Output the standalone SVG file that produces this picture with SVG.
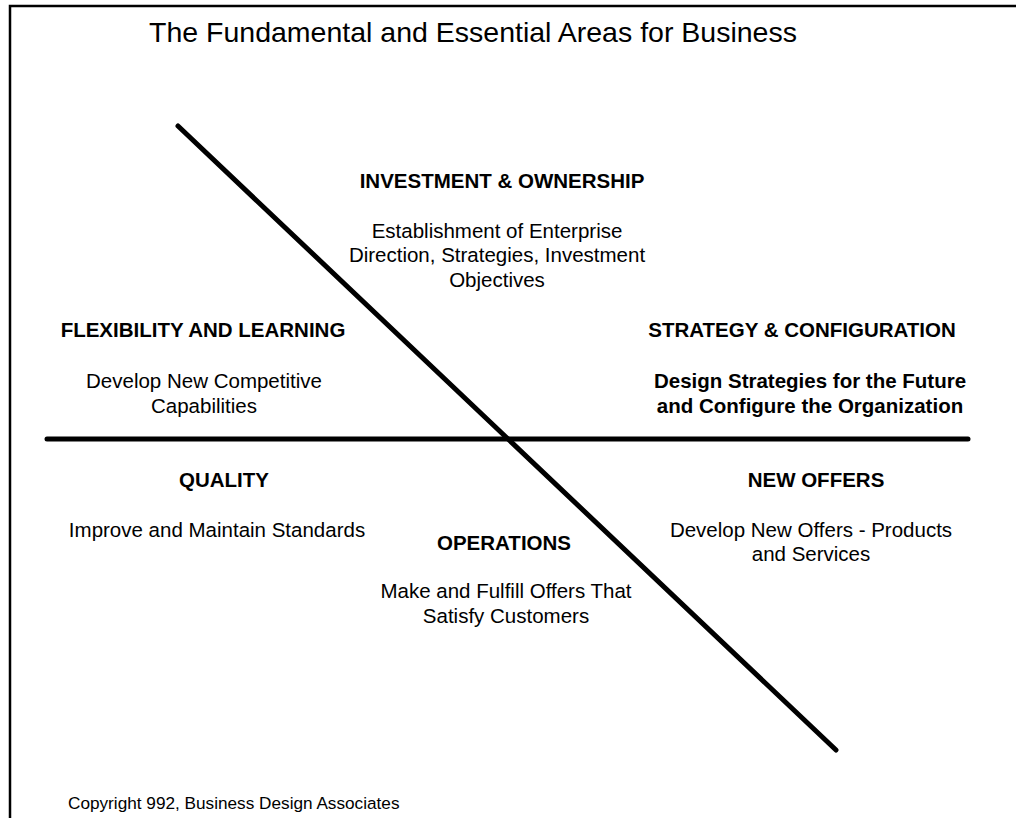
<svg xmlns="http://www.w3.org/2000/svg" width="1016" height="818" viewBox="0 0 1016 818">
  <style>
    text { font-family: "Liberation Sans", Arial, sans-serif; fill: #000; }
    .title { font-size: 28.5px; }
    .head { font-size: 20.5px; font-weight: bold; text-anchor: middle; }
    .body { font-size: 20.5px; text-anchor: middle; }
    .bodyb { font-size: 20.5px; font-weight: bold; text-anchor: middle; }
    .note { font-size: 17.2px; }
    .axis { stroke: #000; stroke-width: 5; stroke-linecap: round; fill: none; }
  </style>
  <rect width="1016" height="818" fill="#fff"/>
  <!-- page frame, open to the right and bottom -->
  <rect x="10" y="6" width="1030" height="840" fill="none" stroke="#000" stroke-width="2.5"/>

  <text class="title" x="473" y="42" text-anchor="middle">The Fundamental and Essential Areas for Business</text>

  <g id="connectors">
    <line class="axis" x1="178" y1="126" x2="836" y2="750"/>
    <line class="axis" x1="47" y1="439" x2="968" y2="439"/>
  </g>

  <g id="investment-ownership">
    <text class="head" x="502" y="188">INVESTMENT &amp; OWNERSHIP</text>
    <text class="body" x="497" y="238">Establishment of Enterprise</text>
    <text class="body" x="497" y="262">Direction, Strategies, Investment</text>
    <text class="body" x="497" y="287">Objectives</text>
  </g>

  <g id="flexibility-learning">
    <text class="head" x="203" y="337">FLEXIBILITY AND LEARNING</text>
    <text class="body" x="204" y="388">Develop New Competitive</text>
    <text class="body" x="204" y="413">Capabilities</text>
  </g>

  <g id="strategy-configuration">
    <text class="head" x="802" y="337">STRATEGY &amp; CONFIGURATION</text>
    <text class="bodyb" x="810" y="388">Design Strategies for the Future</text>
    <text class="bodyb" x="810" y="413">and Configure the Organization</text>
  </g>

  <g id="quality">
    <text class="head" x="224" y="487">QUALITY</text>
    <text class="body" x="217" y="537">Improve and Maintain Standards</text>
  </g>

  <g id="new-offers">
    <text class="head" x="816" y="487">NEW OFFERS</text>
    <text class="body" x="811" y="537">Develop New Offers - Products</text>
    <text class="body" x="811" y="561">and Services</text>
  </g>

  <g id="operations">
    <text class="head" x="504" y="550">OPERATIONS</text>
    <text class="body" x="506" y="598">Make and Fulfill Offers That</text>
    <text class="body" x="506" y="623">Satisfy Customers</text>
  </g>

  <text class="note" x="68" y="809">Copyright 992, Business Design Associates</text>
</svg>
